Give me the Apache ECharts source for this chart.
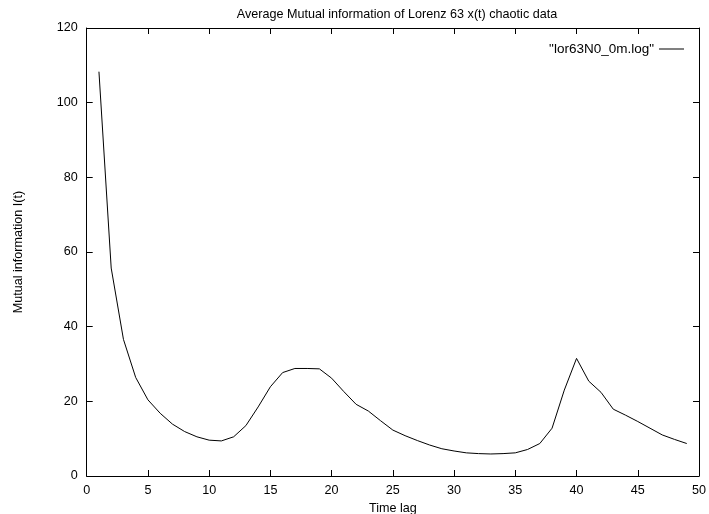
<!DOCTYPE html>
<html>
<head>
<meta charset="utf-8">
<script src="https://cdn.jsdelivr.net/npm/echarts@6/dist/echarts.min.js"></script>
<style>html,body{margin:0;padding:0;background:#fff}#c{width:709px;height:514px}</style>
</head>
<body>
<div id="c"></div>
<script>
const timeLag = [1,2,3,4,5,6,7,8,9,10,11,12,13,14,15,16,17,18,19,20,21,22,23,24,25,26,27,28,29,30,31,32,33,34,35,36,37,38,39,40,41,42,43,44,45,46,47,48,49];
const mutualInfo = [108.3,55.7,36.6,26.4,20.4,16.8,13.9,11.9,10.5,9.6,9.4,10.5,13.5,18.5,23.9,27.7,28.8,28.8,28.7,26.2,22.6,19.2,17.4,14.8,12.3,10.8,9.5,8.3,7.3,6.7,6.2,6.0,5.9,6.0,6.2,7.1,8.7,12.8,23.0,31.5,25.4,22.4,17.9,16.3,14.6,12.8,11.0,9.8,8.7];
const seriesName = '"lor63N0_0m.log"';
const chartTitle = 'Average Mutual information of Lorenz 63 x(t) chaotic data';
const xName = 'Time lag';
const yName = 'Mutual information I(t)';

const font = 'Liberation Sans, Arial, sans-serif';
const fs = 12.6;
const chart = echarts.init(document.getElementById('c'), null, {renderer: 'canvas'});
const tickStyle = {show: true, inside: true, length: 6, lineStyle: {color: '#000', width: 1}};
const lineStyle = {show: true, onZero: false, lineStyle: {color: '#000', width: 1}};
chart.setOption({
  animation: false,
  backgroundColor: '#fff',
  title: {text: chartTitle, left: 392, top: 3, textAlign: 'center',
    textStyle: {fontFamily: font, fontSize: fs, fontWeight: 'normal', color: '#000'}},
  legend: {right: 20, top: 37, align: 'right', icon: 'rect', itemWidth: 25, itemHeight: 1,
    itemGap: 5, textStyle: {fontFamily: font, fontSize: 13.5, color: '#000', padding: [0, 0, 0, 3]},
    itemStyle: {color: '#000'}, data: [seriesName]},
  grid: {left: 86.7, right: 10, top: 28, bottom: 38, containLabel: false, outerBoundsMode: 'none'},
  xAxis: [
    {type: 'value', min: 0, max: 50, interval: 5, position: 'bottom',
     name: xName, nameLocation: 'middle', nameGap: 17,
     nameTextStyle: {fontFamily: font, fontSize: fs, color: '#000'},
     axisLine: lineStyle, axisTick: tickStyle, splitLine: {show: false},
     axisLabel: {fontFamily: font, fontSize: fs, color: '#000', margin: 8}},
    {type: 'value', min: 0, max: 50, interval: 5, position: 'top',
     axisLine: lineStyle, axisTick: tickStyle, splitLine: {show: false}, axisLabel: {show: false}}
  ],
  yAxis: [
    {type: 'value', min: 0, max: 120, interval: 20, position: 'left',
     name: yName, nameLocation: 'middle', nameGap: 62, nameRotate: 90,
     nameTextStyle: {fontFamily: font, fontSize: fs, color: '#000'},
     axisLine: lineStyle, axisTick: tickStyle, splitLine: {show: false},
     axisLabel: {fontFamily: font, fontSize: fs, color: '#000', margin: 9}},
    {type: 'value', min: 0, max: 120, interval: 20, position: 'right',
     axisLine: lineStyle, axisTick: tickStyle, splitLine: {show: false}, axisLabel: {show: false}}
  ],
  series: [{
    name: seriesName, type: 'line', xAxisIndex: 0, yAxisIndex: 0,
    data: timeLag.map((x, i) => [x, mutualInfo[i]]),
    showSymbol: false, symbol: 'none', smooth: false,
    lineStyle: {color: '#000', width: 1}, itemStyle: {color: '#000'}
  }]
});
</script>
</body>
</html>
